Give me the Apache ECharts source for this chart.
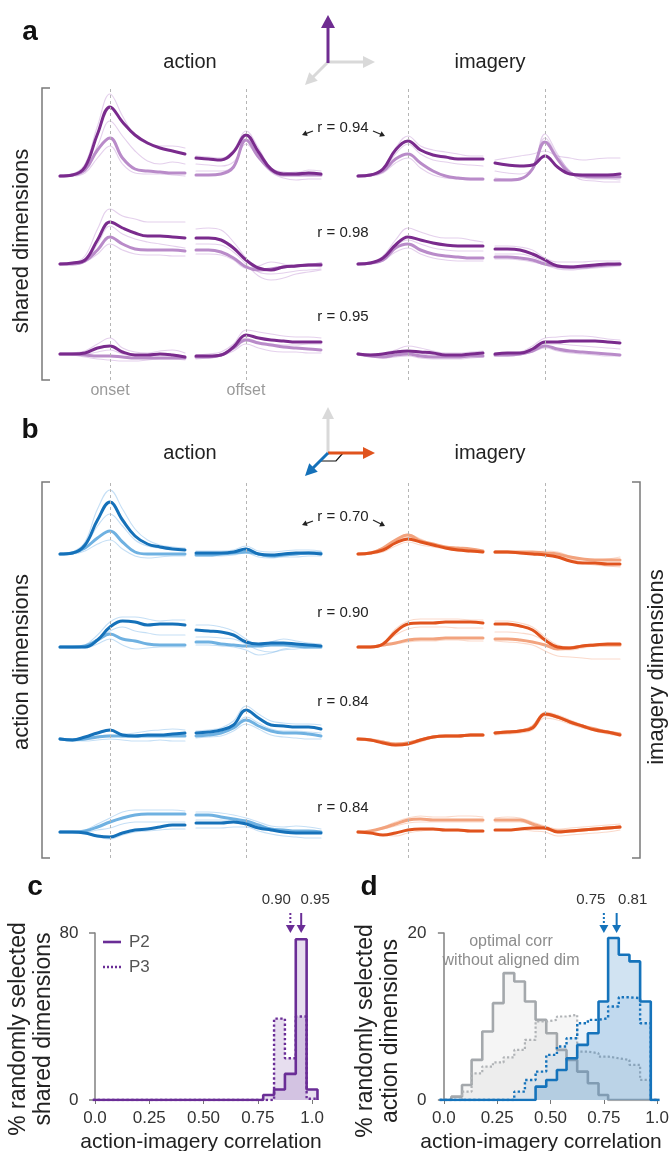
<!DOCTYPE html>
<html><head><meta charset="utf-8">
<script src="https://cdn.jsdelivr.net/npm/echarts/dist/echarts.min.js"></script>
<style>html,body{margin:0;padding:0;background:#fff}#c{width:672px;height:1151px}</style>
</head><body><div id="c"></div>
<script>
// ---------------- DATA ----------------
const T = [-1,-0.75,-0.5,-0.25,0,0.25,0.5,0.75,1,1.25,1.5]; // time relative to onset/offset (s)
const EVENT_T = 0;
// each block: [dark trace, light trace, thin1, thin2, thin3]  (a.u. above baseline)
const A1_ACT_ON = [[0,1,9,42,69,54,41,33,28,25,22],[0,1,6,26,38,18,7,5,4,3,3],[0,2,12,50,82,60,40,32,30,30,28],[0,1,5,30,55,40,25,15,12,14,12],[0,0,3,18,30,12,3,2,2,1,0]];
const A1_ACT_OFF = [[18,17,16,24,41,24,7,2,2,3,2],[1,1,2,9,36,19,6,1,1,1,1],[20,19,18,26,45,28,8,4,3,6,5],[12,11,10,14,32,18,4,-2,-4,-3,-3],[5,5,5,10,40,20,6,3,4,2,1]];
const A1_IMG_ON = [[0,1,7,26,35,26,21,19,17,17,17],[0,1,5,17,22,13,5,0,-2,-3,-3],[0,1,8,28,40,30,26,24,22,20,20],[0,1,6,22,32,22,16,14,12,11,10],[0,0,3,13,18,8,1,-2,-3,-4,-4]];
const A1_IMG_OFF = [[13,11,10,11,20,9,2,1,1,1,2],[-4,-4,-3,7,34,17,3,0,-1,-1,-1],[16,18,20,22,25,20,18,16,17,18,18],[5,3,2,8,38,20,5,-2,-3,-3,-4],[-2,-3,-2,6,42,22,4,-4,-5,-6,-6]];
const A2_ACT_ON = [[0,1,4,24,42,36,31,28,28,27,26],[0,0,3,14,27,20,15,14,14,14,13],[0,1,8,35,55,48,45,42,42,42,42],[0,1,3,20,38,30,25,22,20,18,16],[0,0,2,10,20,14,10,9,9,8,8]];
const A2_ACT_OFF = [[26,26,24,16,4,-4,-6,-3,-2,-1,-1],[14,14,12,6,-3,-6,-5,-3,-2,-1,0],[35,36,34,22,6,-8,-10,-9,-7,-6,-5],[20,20,19,12,0,-12,-16,-14,-10,-8,-6],[10,10,9,4,-4,-2,2,0,-2,-2,-3]];
const A2_IMG_ON = [[0,1,6,19,27,24,21,19,18,18,18],[0,1,4,16,20,14,10,8,7,6,6],[0,1,8,24,36,32,28,26,26,24,22],[0,1,5,18,24,20,16,14,13,13,13],[0,0,3,12,16,10,6,4,3,3,3]];
const A2_IMG_OFF = [[15,15,14,10,4,-2,-3,-2,-1,0,0],[7,7,6,4,0,-2,-3,-3,-2,-1,0],[18,18,17,14,6,2,2,2,3,3,3],[10,10,10,7,2,-4,-5,-4,-2,-1,-1],[5,5,4,2,-1,-5,-6,-5,-4,-3,-2]];
const A3_ACT_ON = [[0,0,1,6,8,2,-1,-1,0,-1,-3],[0,0,-1,-2,-2,-3,-4,-4,-4,-4,-4],[0,1,3,10,16,6,2,1,3,4,1],[0,0,0,2,4,0,-2,-2,-1,-1,-2],[0,-1,-3,-5,-6,-7,-7,-6,-5,-5,-6]];
const A3_ACT_OFF = [[-2,-2,-1,7,19,16,14,13,12,12,12],[-3,-3,-1,6,14,11,9,7,6,5,4],[-1,0,2,10,24,22,20,18,17,17,16],[-3,-2,0,6,16,12,10,9,9,10,10],[-5,-4,-2,3,10,6,3,2,2,1,1]];
const A3_IMG_ON = [[0,-1,0,2,3,2,1,-1,-1,0,1],[0,-2,-3,-1,0,-2,-3,-3,-3,-2,-2],[0,0,1,4,8,6,3,1,1,2,3],[0,-1,-2,0,2,0,-1,-2,-1,0,1],[0,-2,-4,-3,-2,-4,-5,-5,-5,-4,-3]];
const A3_IMG_OFF = [[0,1,1,5,12,12,13,13,13,12,11],[-1,-1,0,3,8,5,3,2,1,0,-1],[1,1,2,8,16,17,18,18,17,15,14],[0,0,1,4,10,10,9,8,7,6,5],[-2,-2,-1,2,6,3,1,0,-1,-2,-2]];

const B1_ACT_ON = [[0,1,9,34,52,34,18,10,7,5,4],[0,1,6,16,23,12,2,0,0,0,0],[0,2,12,45,64,45,25,14,9,7,6],[0,1,8,28,40,28,14,8,6,5,5],[0,0,3,10,14,5,-2,-4,-3,-2,-2]];
const B1_ACT_OFF = [[1,1,1,2,5,0,-1,0,1,1,0],[-1,-1,0,1,2,0,-2,-1,0,1,1],[3,3,3,4,8,3,2,3,4,4,3],[0,0,0,2,6,-1,-3,-2,-1,0,0],[-2,-2,-2,-1,1,-3,-4,-3,-3,-2,-2]];
const B1_IMG_ON = [[0,1,4,11,15,12,9,6,4,3,2],[0,1,6,14,19,13,10,7,6,5,3],[0,1,5,14,20,15,10,7,5,4,3],[0,1,4,12,17,13,9,6,4,3,2],[0,0,2,8,12,9,7,5,3,2,1]];
const B1_IMG_OFF = [[2,2,1,0,-1,-3,-7,-9,-9,-10,-10],[2,2,2,2,1,0,-3,-5,-6,-6,-6],[3,3,2,2,3,2,-2,-5,-6,-5,-3],[2,2,1,1,0,-2,-5,-8,-10,-12,-13],[1,1,1,0,-1,-3,-6,-9,-11,-12,-12]];
const B2_ACT_ON = [[0,0,0,7,20,26,25,22,23,23,22],[0,0,1,7,13,8,6,3,2,2,2],[0,0,2,12,25,30,30,28,26,27,27],[0,0,1,6,16,20,16,14,12,12,12],[0,-1,-1,3,8,2,-2,-1,0,0,0]];
const B2_ACT_OFF = [[17,16,15,12,5,3,4,4,3,2,1],[5,5,3,2,1,1,2,2,1,0,0],[22,22,20,16,8,2,5,8,6,4,3],[10,10,9,8,3,-3,-5,-2,0,1,1],[2,2,1,0,-3,-8,-6,-3,-2,-1,-1]];
const B2_IMG_ON = [[0,0,3,15,23,24,24,25,25,25,24],[0,0,2,4,7,8,8,9,9,9,9],[0,0,4,18,26,28,28,28,28,27,27],[0,0,3,12,18,20,20,20,19,19,19],[0,0,1,3,5,6,6,7,7,6,6]];
const B2_IMG_OFF = [[23,23,21,17,7,0,-1,1,2,3,3],[8,8,7,5,2,-2,-1,1,2,2,2],[26,26,24,20,10,2,0,1,2,3,3],[15,15,14,12,6,-2,-3,-1,1,2,2],[6,5,4,2,-4,-9,-10,-11,-12,-12,-12]];
const B3_ACT_ON = [[0,-1,2,6,9,4,3,4,4,5,6],[0,-1,0,2,3,3,3,3,3,3,3],[0,0,2,6,8,5,6,8,9,10,9],[0,0,1,3,4,2,2,3,4,4,5],[0,-1,-2,-1,0,-1,-2,-2,-1,-2,-2]];
const B3_ACT_OFF = [[6,7,9,14,29,21,14,13,12,12,10],[3,4,6,11,19,13,8,6,6,5,3],[8,9,11,18,33,25,18,16,15,15,14],[4,5,7,12,22,16,10,8,8,7,6],[1,2,3,8,15,10,4,2,1,0,0]];
const B3_IMG_ON = [[0,-1,-4,-6,-5,-1,2,3,3,4,4],[0,-1,-3,-5,-4,-1,2,3,3,4,4],[0,0,-2,-4,-3,0,3,4,4,5,5],[0,-1,-3,-5,-4,-1,1,2,3,3,4],[0,-1,-4,-7,-6,-3,1,2,2,3,3]];
const B3_IMG_OFF = [[6,7,8,11,25,22,17,13,9,7,4],[6,7,8,12,25,22,17,13,10,7,5],[7,8,9,13,27,24,19,14,10,8,6],[5,6,7,11,23,21,17,12,9,6,4],[4,5,6,9,21,19,15,11,8,5,3]];
const B4_ACT_ON = [[0,0,-1,-4,-5,-1,2,3,5,7,7],[0,0,1,5,10,14,17,18,18,18,18],[0,0,2,8,14,20,22,22,22,22,21],[0,0,0,2,4,8,10,10,10,10,10],[0,-1,-2,-5,-7,-3,0,1,2,3,3]];
const B4_ACT_OFF = [[9,9,9,10,8,4,2,0,-1,-1,-1],[17,17,15,13,11,7,3,2,1,1,0],[20,20,19,17,14,10,6,5,6,5,3],[12,12,12,11,9,6,3,2,1,0,0],[4,4,4,5,5,1,-2,-4,-5,-6,-6]];
const B4_IMG_ON = [[0,-1,-3,-1,2,3,3,2,2,1,1],[0,1,4,8,12,13,12,12,12,12,12],[0,1,5,10,14,16,15,15,16,16,15],[0,1,3,6,9,10,10,10,10,10,10],[0,-1,-3,-4,-1,1,2,1,1,0,0]];
const B4_IMG_OFF = [[2,2,3,4,4,0,1,2,3,4,5],[12,12,12,8,4,1,1,2,3,4,5],[14,15,14,10,6,3,4,5,6,7,8],[10,10,10,7,3,0,0,1,2,3,4],[2,2,2,1,0,-4,-3,-2,-1,0,2]];

const R_A = [0.94, 0.98, 0.95];
const R_B = [0.70, 0.90, 0.84, 0.84];

// panel c histograms (bin edges, % per bin)
const C_EDGES = [-0.01, 0.775, 0.825, 0.875, 0.925, 0.975, 1.025];
const C_P2 = [0, 2.4, 5, 12.5, 77, 5];
const C_P3 = [0, 0, 39, 20, 40, 0.6];
const C_MEAN_P2 = 0.95, C_MEAN_P3 = 0.90;
// panel d histograms
const D_EDGES = [-0.02,0.035,0.085,0.13,0.18,0.23,0.28,0.33,0.38,0.43,0.48,0.53,0.575,0.625,0.675,0.725,0.77,0.82,0.87,0.92,0.97,1.01];
const D_GRAY = [0,0.4,1.8,4.8,8.2,11.6,15.2,14.2,11.8,9.6,8.0,6.0,4.8,3.4,2.0,0.6,0,0,0,0,0];
const D_GRAY_DOT = [0,0,1.0,3.2,4.0,4.5,5.1,6.0,7.2,9.4,9.6,10.0,10.2,5.8,5.6,5.2,5.0,4.8,4.2,2.4,0];
const D_BLUE_DOT = [0,0,0,0,0,0,0,1.0,2.4,3.4,5.4,6.4,7.4,9.2,9.6,9.8,11.2,12.3,12.2,9.2,0];
const D_BLUE = [0,0,0,0,0,0,0,0,0,1.6,2.4,3.6,5.0,6.6,8.0,11.8,19.4,17.4,16.6,11.8,0];
const D_MEAN_SOLID = 0.81, D_MEAN_DOT = 0.75;
const X_TICKS = [0, 0.25, 0.5, 0.75, 1];
const X_TICK_LABELS = ['0.0', '0.25', '0.50', '0.75', '1.0'];
const C_Y_TICKS = [0, 80];
const D_Y_TICKS = [0, 20];

// ---------------- LAYOUT / STYLE ----------------
const FONT = "'Liberation Sans', Arial, Helvetica, sans-serif";
const PAL = {
  purple: {dark:'#7a2b8d', light:'#b98bc9', thin:'rgba(170,110,195,0.32)'},
  blue:   {dark:'#1571b9', light:'#6fb1e1', thin:'rgba(110,175,230,0.40)'},
  orange: {dark:'#e0531d', light:'#f2a37e', thin:'rgba(242,155,115,0.38)'}
};
const COLS = [60, 196, 358, 495];
const SEG_W = 125;
const A_BASE = [176, 264, 354];
const B_BASE = [554, 647, 739, 832];
const A_ROWS = [[A1_ACT_ON,A1_ACT_OFF,A1_IMG_ON,A1_IMG_OFF],[A2_ACT_ON,A2_ACT_OFF,A2_IMG_ON,A2_IMG_OFF],[A3_ACT_ON,A3_ACT_OFF,A3_IMG_ON,A3_IMG_OFF]];
const B_ROWS = [[B1_ACT_ON,B1_ACT_OFF,B1_IMG_ON,B1_IMG_OFF],[B2_ACT_ON,B2_ACT_OFF,B2_IMG_ON,B2_IMG_OFF],[B3_ACT_ON,B3_ACT_OFF,B3_IMG_ON,B3_IMG_OFF],[B4_ACT_ON,B4_ACT_OFF,B4_IMG_ON,B4_IMG_OFF]];
const R_Y_A = [128, 233, 317];
const R_Y_B = [517, 613, 702, 808];

const grids = [], xAxes = [], yAxes = [], series = [];
function addGrid(g, xa, ya) {
  const i = grids.length;
  grids.push(g);
  xAxes.push(Object.assign({gridIndex: i}, xa));
  yAxes.push(Object.assign({gridIndex: i}, ya));
  return i;
}
function lineSeries(gi, arr, color, width, z) {
  return {type:'line', xAxisIndex: gi, yAxisIndex: gi, data: T.map((t, i) => [t, arr[i]]),
    smooth: 0.4, symbol: 'none', silent: true, z: z, lineStyle: {color: color, width: width, cap:'round'}};
}
function addPanelRows(rows, bases, palFor) {
  rows.forEach((row, r) => {
    row.forEach((block, c) => {
      const pal = palFor(c);
      const gi = addGrid({left: COLS[c], top: bases[r] - 90, width: SEG_W, height: 120},
        {type:'value', min:-1, max:1.5, show:false},
        {type:'value', min:-30, max:90, show:false});
      for (let k = 2; k < block.length; k++) series.push(lineSeries(gi, block[k], pal.thin, 1.1, 2));
      series.push(lineSeries(gi, block[1], pal.light, 3, 3));
      series.push(lineSeries(gi, block[0], pal.dark, 3, 4));
    });
  });
}
function addDashed(top, height) {
  COLS.forEach(left => {
    const gi = addGrid({left: left, top: top, width: SEG_W, height: height},
      {type:'value', min:-1, max:1.5, show:false}, {type:'value', min:0, max:1, show:false});
    series.push({type:'line', xAxisIndex: gi, yAxisIndex: gi, data: [], z: 1, silent: true,
      markLine: {symbol:'none', silent:true, animation:false, label:{show:false},
        lineStyle:{type:[3,3], color:'#b5b5b5', width:1}, data:[{xAxis: EVENT_T}]}});
  });
}
addDashed(88, 292);
addDashed(482, 376);
addPanelRows(A_ROWS, A_BASE, c => PAL.purple);
addPanelRows(B_ROWS, B_BASE, c => c < 2 ? PAL.blue : PAL.orange);

function stepData(edges, vals) {
  const d = vals.map((v, i) => [edges[i], v]);
  d.push([edges[edges.length - 1], 0]);
  return d;
}
const xAxisHist = (min, max) => ({type:'value', min: min, max: max,
  axisLine:{show:false}, splitLine:{show:false},
  axisTick:{show:true, customValues: X_TICKS, length:4, lineStyle:{color:'#777', width:1}},
  axisLabel:{customValues: X_TICKS, fontSize:17, color:'#333', margin:10, fontFamily: FONT,
    formatter: v => { const i = X_TICKS.indexOf(v); return i >= 0 ? X_TICK_LABELS[i] : ''; }}});
const yAxisHist = (max, ticks) => ({type:'value', min:0, max:max,
  axisLine:{show:true, lineStyle:{color:'#808080', width:1.5}}, splitLine:{show:false},
  axisTick:{show:true, customValues: ticks, length:6, lineStyle:{color:'#808080', width:1.5}},
  axisLabel:{customValues: ticks, fontSize:17, color:'#333', margin:10, fontFamily: FONT}});

const cIdx = addGrid({left:88.5, top:933, width:234.4, height:167}, xAxisHist(-0.03, 1.05), yAxisHist(80, C_Y_TICKS));
const PURPLE = '#6a2d96';
series.push({type:'line', xAxisIndex:cIdx, yAxisIndex:cIdx, step:'end', symbol:'none', silent:true, z:5,
  data: stepData(C_EDGES, C_P3), lineStyle:{color:PURPLE, width:2.4, type:'dotted'}, areaStyle:{color:'rgba(120,70,165,0.26)'}});
series.push({type:'line', xAxisIndex:cIdx, yAxisIndex:cIdx, step:'end', symbol:'none', silent:true, z:6,
  data: stepData(C_EDGES, C_P2), lineStyle:{color:PURPLE, width:2.6}, areaStyle:{color:'rgba(120,70,165,0.26)'}});

const dIdx = addGrid({left:436.4, top:933, width:228.9, height:167}, xAxisHist(-0.035, 1.02), yAxisHist(20, D_Y_TICKS));
const BLUE = '#1573bb', GRAY = '#a4a8ac';
series.push({type:'line', xAxisIndex:dIdx, yAxisIndex:dIdx, step:'end', symbol:'none', silent:true, z:5,
  data: stepData(D_EDGES, D_GRAY), lineStyle:{color:GRAY, width:2.6}, areaStyle:{color:'rgba(170,170,170,0.17)'}});
series.push({type:'line', xAxisIndex:dIdx, yAxisIndex:dIdx, step:'end', symbol:'none', silent:true, z:6,
  data: stepData(D_EDGES, D_GRAY_DOT), lineStyle:{color:'#b0b3b6', width:2.2, type:'dotted'}, areaStyle:{color:'rgba(170,170,170,0.15)'}});
series.push({type:'line', xAxisIndex:dIdx, yAxisIndex:dIdx, step:'end', symbol:'none', silent:true, z:7,
  data: stepData(D_EDGES, D_BLUE_DOT), lineStyle:{color:BLUE, width:2.4, type:'dotted'}, areaStyle:{color:'rgba(80,150,210,0.16)'}});
series.push({type:'line', xAxisIndex:dIdx, yAxisIndex:dIdx, step:'end', symbol:'none', silent:true, z:8,
  data: stepData(D_EDGES, D_BLUE), lineStyle:{color:BLUE, width:2.6}, areaStyle:{color:'rgba(40,125,195,0.30)'}});

const chart = echarts.init(document.getElementById('c'), null, {renderer:'canvas'});
chart.setOption({animation:false, backgroundColor:'#fff', textStyle:{fontFamily:FONT},
  grid: grids, xAxis: xAxes, yAxis: yAxes, series: series});

// ---------------- DECORATIONS ----------------
const G = [];
function text(x, y, s, o) {
  o = o || {};
  G.push({type:'text', x:x, y:y, rotation:o.rot||0, z:100, silent:true,
    style:{text:s, fill:o.color||'#222', fontSize:o.size||16, fontFamily:FONT, fontWeight:o.weight||'normal',
      lineHeight:o.lh||undefined, align:o.align||'center', verticalAlign:'middle'}});
}
function arrow(x1, y1, x2, y2, color, w, hl, hw, dash) {
  const dx = x2 - x1, dy = y2 - y1, L = Math.hypot(dx, dy), ux = dx / L, uy = dy / L;
  const bx = x2 - ux * hl, by = y2 - uy * hl, px = -uy, py = ux;
  G.push({type:'line', z:100, silent:true, shape:{x1:x1, y1:y1, x2:bx + ux, y2:by + uy},
    style:{stroke:color, lineWidth:w, lineDash: dash || null}});
  G.push({type:'polygon', z:100, silent:true, shape:{points:[[x2, y2], [bx + px * hw, by + py * hw], [bx - px * hw, by - py * hw]]},
    style:{fill:color}});
}
function poly(points, color, w) {
  G.push({type:'polyline', z:100, silent:true, shape:{points:points}, style:{stroke:color, lineWidth:w, fill:null}});
}
// panel letters
text(30, 32, 'a', {size:28, weight:'bold', color:'#111'});
text(30, 430, 'b', {size:28, weight:'bold', color:'#111'});
text(35, 887, 'c', {size:28, weight:'bold', color:'#111'});
text(369, 887, 'd', {size:28, weight:'bold', color:'#111'});
// titles
text(190, 62, 'action', {size:20}); text(490, 62, 'imagery', {size:20});
text(190, 453, 'action', {size:20}); text(490, 453, 'imagery', {size:20});
// axis icons
arrow(328, 62, 375, 62, '#d9d9d9', 3, 12, 6);
arrow(328, 62, 305, 85, '#d9d9d9', 3, 12, 6);
arrow(328, 63, 328, 15, '#6f2c91', 3, 13, 7);
arrow(328, 453, 328, 407, '#d9d9d9', 3, 12, 6);
poly([[343, 453], [336, 461], [321, 461]], '#111', 1.2);
arrow(328, 453, 375, 453, '#e0531d', 3, 12, 6);
arrow(328, 453, 305, 476, '#1571b9', 3, 12, 6);
// brackets
poly([[50, 88], [42, 88], [42, 380], [50, 380]], '#7a7a7a', 1.5);
poly([[50, 482], [42, 482], [42, 858], [50, 858]], '#7a7a7a', 1.5);
poly([[632, 482], [640, 482], [640, 858], [632, 858]], '#7a7a7a', 1.5);
// side labels
text(22, 241, 'shared dimensions', {size:22, rot:Math.PI / 2});
text(22, 662, 'action dimensions', {size:22, rot:Math.PI / 2});
text(657, 667, 'imagery dimensions', {size:22, rot:Math.PI / 2});
// onset / offset labels
text(110, 391, 'onset', {size:16, color:'#9a9a9a'});
text(246, 391, 'offset', {size:16, color:'#9a9a9a'});
// r labels
R_A.forEach((r, i) => text(343, R_Y_A[i], 'r = ' + r.toFixed(2), {size:15}));
R_B.forEach((r, i) => text(343, R_Y_B[i], 'r = ' + r.toFixed(2), {size:15}));
arrow(313, 131, 302, 135, '#222', 1.2, 5, 3); arrow(373, 131, 385, 136, '#222', 1.2, 5, 3);
arrow(313, 521, 302, 525, '#222', 1.2, 5, 3); arrow(373, 520, 385, 526, '#222', 1.2, 5, 3);
// histogram axis titles
text(31, 1029, '% randomly selected\nshared dimensions', {size:23, lh:25, rot:Math.PI / 2});
text(378, 1031, '% randomly selected\naction dimensions', {size:23, lh:25, rot:Math.PI / 2});
text(201, 1142, 'action-imagery correlation', {size:21});
text(541, 1142, 'action-imagery correlation', {size:21});
// legend panel c
G.push({type:'line', z:100, shape:{x1:103, y1:942, x2:121, y2:942}, style:{stroke:PURPLE, lineWidth:2.6}});
G.push({type:'line', z:100, shape:{x1:103, y1:967, x2:121, y2:967}, style:{stroke:PURPLE, lineWidth:2.4, lineDash:[2, 2]}});
text(129, 942, 'P2', {size:17, color:'#555', align:'left'});
text(129, 967, 'P3', {size:17, color:'#555', align:'left'});
// mean arrows (placed through the axis scales)
function meanArrow(idx, v, color, dashed, labelDx) {
  const x = chart.convertToPixel({xAxisIndex: idx}, v);
  arrow(x, 913, x, 933, color, 2, 8, 4.5, dashed ? [2, 2] : null);
  text(x + labelDx, 900, v.toFixed(2), {size:15, color:'#333'});
}
meanArrow(cIdx, C_MEAN_P3, PURPLE, true, -14);
meanArrow(cIdx, C_MEAN_P2, PURPLE, false, 14);
meanArrow(dIdx, D_MEAN_DOT, BLUE, true, -13);
meanArrow(dIdx, D_MEAN_SOLID, BLUE, false, 16);
text(511, 942, 'optimal corr', {size:16, color:'#8c8c8c'});
text(511, 961, 'without aligned dim', {size:16, color:'#8c8c8c'});

chart.setOption({graphic: G});
</script></body></html>
